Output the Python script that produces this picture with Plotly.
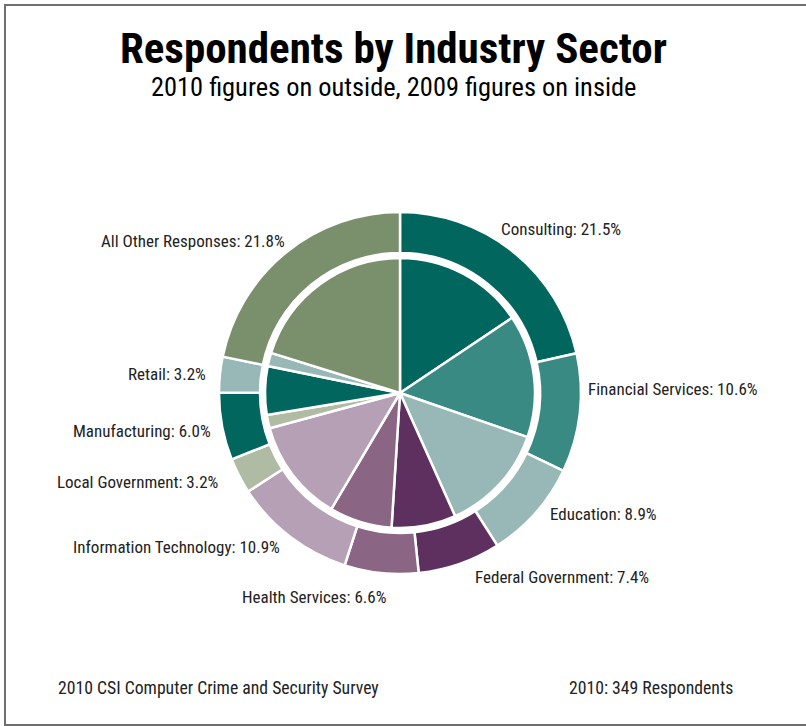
import plotly.graph_objects as go

W, H = 806, 726

sectors = ["Consulting", "Financial Services", "Education", "Federal Government",
           "Health Services", "Information Technology", "Local Government",
           "Manufacturing", "Retail", "All Other Responses"]
values_2010 = [21.5, 10.6, 8.9, 7.4, 6.6, 10.9, 3.2, 6.0, 3.2, 21.8]
values_2009 = [15.6, 14.7, 13.0, 7.7, 7.5, 12.3, 1.6, 5.8, 1.6, 20.2]
colors = ["#00665E", "#3A8A84", "#97B8B6", "#5E305F", "#8A6584",
          "#B6A0B5", "#B0BBA4", "#00665E", "#97B8B6", "#7A8F6C"]

# label placement (pixel anchor, alignment) for each 2010 label
label_pos = {
    "Consulting": (499, 229, "left"),
    "Financial Services": (586, 389, "left"),
    "Education": (548, 514, "left"),
    "Federal Government": (473, 577, "left"),
    "Health Services": (240, 597, "left"),
    "Information Technology": (282, 547, "right"),
    "Local Government": (220, 482, "right"),
    "Manufacturing": (213, 431, "right"),
    "Retail": (208, 374, "right"),
    "All Other Responses": (287, 241, "right"),
}

FONT = "Liberation Sans Narrow, Arial Narrow, Roboto Condensed, sans-serif"

cx, cy = 400, 393
R_out, hole_frac = 181, 140 / 181
R_in = 135


def dom(r):
    return dict(x=[(cx - r) / W, (cx + r) / W],
                y=[1 - (cy + r) / H, 1 - (cy - r) / H])


fig = go.Figure()
fig.add_trace(go.Pie(
    labels=sectors, values=values_2010, sort=False, direction="clockwise",
    rotation=0, hole=hole_frac, domain=dom(R_out),
    marker=dict(colors=colors, line=dict(color="white", width=2.5)),
    textinfo="none", showlegend=False, name="2010"))
fig.add_trace(go.Pie(
    labels=sectors, values=values_2009, sort=False, direction="clockwise",
    rotation=0, domain=dom(R_in),
    marker=dict(colors=colors, line=dict(color="white", width=2.5)),
    textinfo="none", showlegend=False, name="2009"))

annotations = []
for name, v in zip(sectors, values_2010):
    px, py, al = label_pos[name]
    annotations.append(dict(
        x=px / W, y=1 - py / H, xref="paper", yref="paper",
        text=f"{name}: {v:.1f}%", showarrow=False,
        xanchor=al, yanchor="middle",
        font=dict(family=FONT, size=17, color="#222")))

annotations += [
    dict(x=0.5 * (118 + 668) / W, y=1 - 48 / H, xref="paper", yref="paper",
         text="<b>Respondents by Industry Sector</b>", showarrow=False,
         xanchor="center", yanchor="middle",
         font=dict(family=FONT, size=43, color="black")),
    dict(x=0.5 * (150 + 636) / W, y=1 - 87 / H, xref="paper", yref="paper",
         text="2010 figures on outside, 2009 figures on inside", showarrow=False,
         xanchor="center", yanchor="middle",
         font=dict(family=FONT, size=26.4, color="black")),
    dict(x=56 / W, y=1 - 688 / H, xref="paper", yref="paper",
         text="2010 CSI Computer Crime and Security Survey", showarrow=False,
         xanchor="left", yanchor="middle",
         font=dict(family=FONT, size=17.7, color="#222")),
    dict(x=735 / W, y=1 - 688 / H, xref="paper", yref="paper",
         text="2010: 349 Respondents", showarrow=False,
         xanchor="right", yanchor="middle",
         font=dict(family=FONT, size=17.7, color="#222")),
]

fig.update_layout(
    width=W, height=H, margin=dict(l=0, r=0, t=0, b=0),
    paper_bgcolor="white", plot_bgcolor="white",
    annotations=annotations,
    shapes=[dict(type="rect", xref="paper", yref="paper",
                 x0=5 / W, x1=1.1, y0=1 - 725 / H, y1=1 - 5 / H,
                 line=dict(color="#6E6E6E", width=2))],
)

fig.write_html("out.html", config={"displayModeBar": False},
               post_script="document.body.style.margin='0px';document.body.style.overflow='hidden';")
